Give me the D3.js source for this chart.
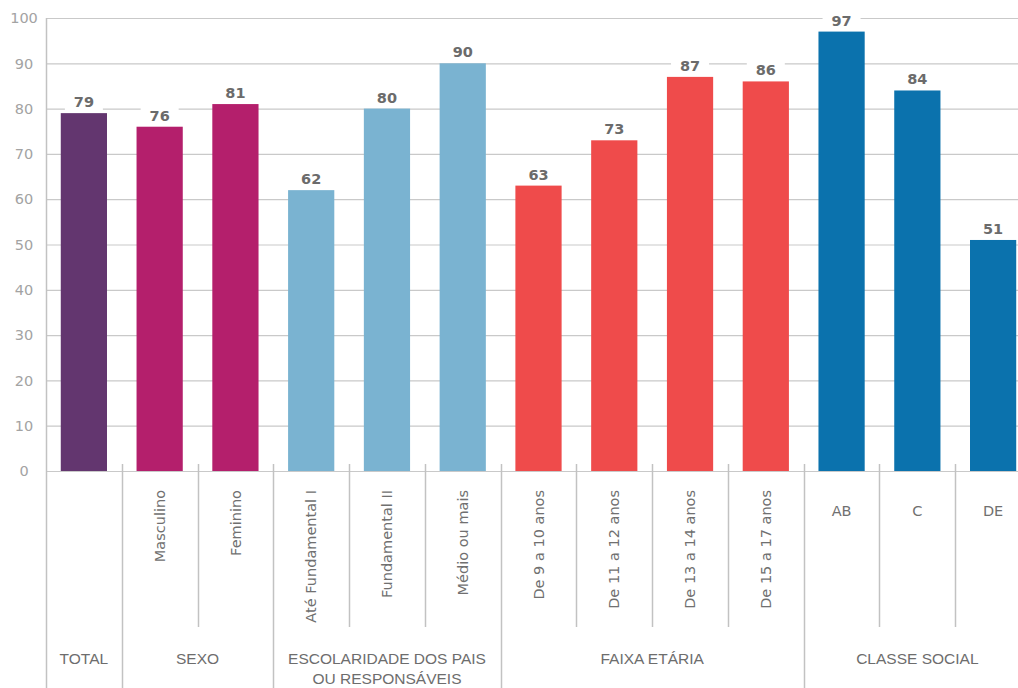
<!DOCTYPE html>
<html>
<head>
<meta charset="utf-8">
<script src="https://cdn.jsdelivr.net/npm/d3@7/dist/d3.min.js"></script>
<style>
  body { margin: 0; background: #fff; }
  svg { display: block; }
</style>
</head>
<body>
<svg class="barsvg"></svg>
<script>
// data
const categories = ['TOTAL', 'Masculino', 'Feminino', 'Até Fundamental I', 'Fundamental II', 'Médio ou mais',
  'De 9 a 10 anos', 'De 11 a 12 anos', 'De 13 a 14 anos', 'De 15 a 17 anos', 'AB', 'C', 'DE'];
const values = [79, 76, 81, 62, 80, 90, 63, 73, 87, 86, 97, 84, 51];
const groupOf = [0, 1, 1, 2, 2, 2, 3, 3, 3, 3, 4, 4, 4];
const groups = [['TOTAL'], ['SEXO'], ['ESCOLARIDADE DOS PAIS', 'OU RESPONSÁVEIS'], ['FAIXA ETÁRIA'], ['CLASSE SOCIAL']];
const groupColors = ['#63366f', '#b41f6c', '#7ab3d1', '#ef4b4b', '#0b72ad'];
const yTicks = [0, 10, 20, 30, 40, 50, 60, 70, 80, 90, 100];

const dims = { width: 1018, height: 688 };
const plot = { left: 46, right: 1031, top: 18, bottom: 471 };

const svg = d3.select('.barsvg')
  .attr('width', dims.width)
  .attr('height', dims.height);

const x = d3.scaleBand()
  .domain(categories)
  .range([plot.left, plot.right])
  .paddingInner(0.39)
  .paddingOuter(0.195);

const y = d3.scaleLinear()
  .domain([0, 100])
  .range([plot.bottom, plot.top]);

const gap = (x.step() - x.bandwidth()) / 2;
const edge = name => x(name) - gap;

// grid
svg.append('g')
  .selectAll('line')
  .data(yTicks)
  .enter()
  .append('line')
  .attr('x1', plot.left)
  .attr('x2', dims.width)
  .attr('y1', d => y(d) + 0.5)
  .attr('y2', d => y(d) + 0.5)
  .attr('stroke', '#c9c9c9')
  .attr('stroke-width', 1.2);

svg.append('g')
  .selectAll('text')
  .data(yTicks)
  .enter()
  .append('text')
  .attr('x', 24)
  .attr('y', d => y(d))
  .attr('dy', '0.36em')
  .attr('text-anchor', 'middle')
  .attr('fill', '#a3a3a3')
  .style('font-family', 'DejaVu Sans')
  .style('font-size', '14.5px')
  .text(d => d);

// separators
svg.append('line')
  .attr('x1', plot.left + 0.5).attr('x2', plot.left + 0.5)
  .attr('y1', plot.top).attr('y2', dims.height)
  .attr('stroke', '#c2c2c2').attr('stroke-width', 1.5);

const seps = categories.slice(1).map((c, i) => ({
  x: edge(c),
  major: groupOf[i + 1] !== groupOf[i]
}));

svg.append('g')
  .selectAll('line')
  .data(seps)
  .enter()
  .append('line')
  .attr('x1', d => Math.round(d.x) + 0.5)
  .attr('x2', d => Math.round(d.x) + 0.5)
  .attr('y1', 464)
  .attr('y2', d => d.major ? dims.height : 627)
  .attr('stroke', '#c2c2c2')
  .attr('stroke-width', 1.5);

// bars
svg.append('g')
  .selectAll('rect')
  .data(values)
  .enter()
  .append('rect')
  .attr('x', (d, i) => x(categories[i]))
  .attr('y', d => y(d))
  .attr('width', x.bandwidth())
  .attr('height', d => y(0) - y(d))
  .attr('fill', (d, i) => groupColors[groupOf[i]]);

// value labels with white box
const lab = svg.append('g')
  .selectAll('g')
  .data(values)
  .enter()
  .append('g')
  .attr('transform', (d, i) => `translate(${x(categories[i]) + x.bandwidth() / 2}, ${y(d)})`);

lab.append('rect')
  .attr('x', -19)
  .attr('y', -22)
  .attr('width', 38)
  .attr('height', 20)
  .attr('fill', '#fff');

lab.append('text')
  .attr('y', -6)
  .attr('text-anchor', 'middle')
  .attr('fill', '#6b6b6b')
  .style('font-family', 'DejaVu Sans')
  .style('font-weight', 'bold')
  .style('font-size', '14.5px')
  .text(d => d);

// category labels
const catText = svg.append('g')
  .selectAll('text')
  .data(categories)
  .enter()
  .append('text')
  .attr('fill', '#707070')
  .style('font-family', 'DejaVu Sans')
  .style('font-size', '14.5px')
  .text((d, i) => (i === 0 ? '' : d));

catText.filter((d, i) => groupOf[i] !== 4 && i !== 0)
  .attr('text-anchor', 'end')
  .attr('dy', '0.35em')
  .attr('transform', d => `translate(${x(d) + x.bandwidth() / 2}, 490) rotate(-90)`);

catText.filter((d, i) => groupOf[i] === 4)
  .attr('text-anchor', 'middle')
  .attr('x', d => x(d) + x.bandwidth() / 2)
  .attr('y', 516);

// group labels
const groupCenters = groups.map((g, gi) => {
  const members = categories.filter((c, i) => groupOf[i] === gi);
  const x0 = edge(members[0]);
  const x1 = edge(members[members.length - 1]) + x.step();
  return (x0 + x1) / 2;
});

svg.append('g')
  .selectAll('text')
  .data(groups)
  .enter()
  .append('text')
  .attr('x', (d, i) => groupCenters[i])
  .attr('y', 664)
  .attr('text-anchor', 'middle')
  .attr('fill', '#6d6d6d')
  .style('font-family', 'Liberation Sans')
  .style('font-size', '15.5px')
  .selectAll('tspan')
  .data(d => d)
  .enter()
  .append('tspan')
  .attr('x', function () { return d3.select(this.parentNode).attr('x'); })
  .attr('dy', (d, i) => (i === 0 ? 0 : 20))
  .text(d => d);
</script>
</body>
</html>
